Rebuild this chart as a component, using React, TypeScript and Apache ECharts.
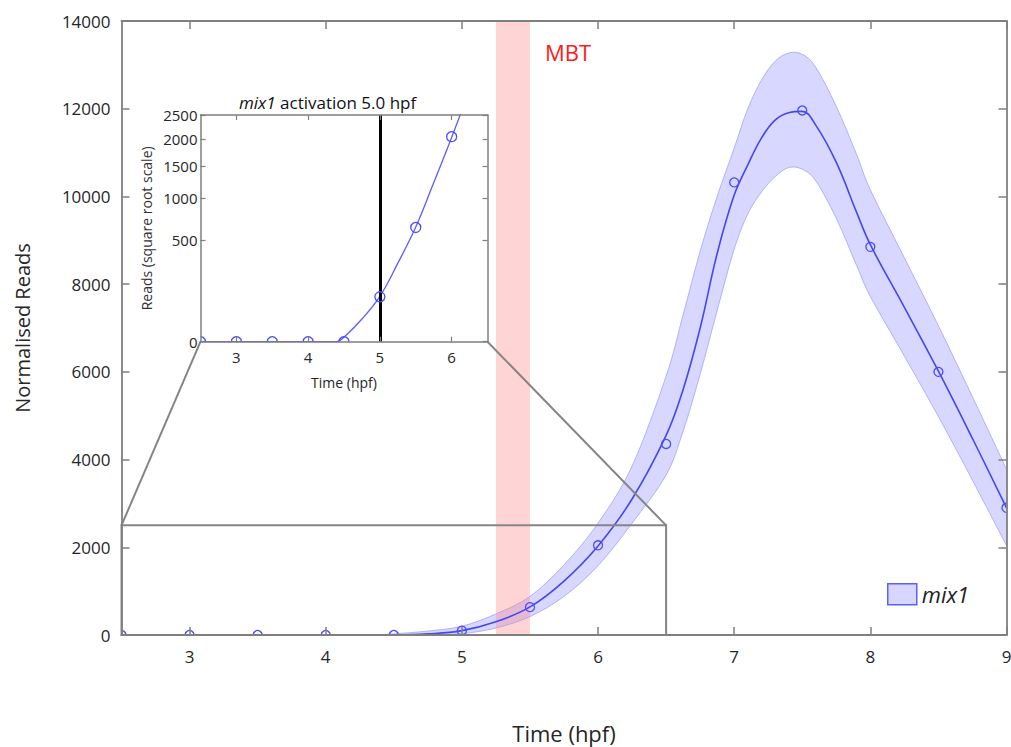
import React, { useEffect, useRef } from 'react';
import * as echarts from 'echarts';

// Measured data points (hpf, normalised reads)
const timePoints = [2.5, 3, 3.5, 4, 4.5, 5, 5.5, 6, 6.5, 7, 7.5, 8, 8.5, 9];
const readPoints = [0, 0, 0, 0, 0, 98, 635, 2045, 4356, 10320, 11960, 8850, 6000, 2900];

// Fitted curve and confidence band
const curveX = [2.5, 2.75, 3, 3.25, 3.5, 3.75, 4, 4.25, 4.4, 4.5, 4.75, 5, 5.25, 5.5, 5.75, 6, 6.25, 6.5, 6.625, 6.75, 6.875, 7, 7.1, 7.2, 7.3, 7.4, 7.5, 7.6, 7.75, 7.9, 8, 8.25, 8.5, 8.75, 9];
const fitY = [0, 0, 0, 0, 0, 0, 0, 0, 0, 1, 25, 100, 300, 640, 1230, 2030, 3100, 4550, 5600, 7000, 8700, 10030, 10720, 11330, 11740, 11910, 11940, 11620, 10775, 9630, 8900, 7470, 6015, 4480, 2900];
const upperY = [0, 0, 0, 0, 0, 0, 0, 0, 8, 25, 90, 200, 480, 880, 1600, 2550, 3850, 5900, 7300, 8750, 10000, 11100, 12000, 12650, 13080, 13270, 13240, 12940, 12050, 10950, 10150, 8600, 7050, 5430, 3780];
const lowerY = [0, 0, 0, 0, 0, 0, 0, 0, 0, 0, 0, 30, 160, 420, 880, 1580, 2550, 3650, 4650, 5950, 7400, 8800, 9600, 10100, 10450, 10660, 10620, 10350, 9500, 8420, 7720, 6360, 4980, 3530, 2040];

const mainXTicks = [3, 4, 5, 6, 7, 8, 9];
const insetXTicks = [3, 4, 5, 6];
const insetYTicks = [0, 500, 1000, 1500, 2000, 2500];
const mbtRange = [5.25, 5.5];
const zoomX = [2.5, 6.5];
const zoomY = [0, 2500];
const activationTime = 5.0;

const FONT = 'Open Sans';
const AXIS_GRAY = '#7f7f7f';
const LABEL = '#262626';
const POINT_BLUE = '#4a4aff';

// Catmull-Rom spline through pixel points -> SVG path commands
function splineCmds(pts: number[][], start: boolean): string {
  let d = (start ? 'M' : 'L') + pts[0][0] + ',' + pts[0][1];
  for (let i = 0; i < pts.length - 1; i++) {
    const p0 = pts[i - 1] || pts[i];
    const p1 = pts[i];
    const p2 = pts[i + 1];
    const p3 = pts[i + 2] || p2;
    const lo = Math.min(p1[0], p2[0]);
    const hi = Math.max(p1[0], p2[0]);
    const c1x = Math.min(hi, Math.max(lo, p1[0] + (p2[0] - p0[0]) / 6));
    const c1y = p1[1] + (p2[1] - p0[1]) / 6;
    const c2x = Math.min(hi, Math.max(lo, p2[0] - (p3[0] - p1[0]) / 6));
    const c2y = p2[1] - (p3[1] - p1[1]) / 6;
    d += ' C' + c1x + ',' + c1y + ' ' + c2x + ',' + c2y + ' ' + p2[0] + ',' + p2[1];
  }
  return d;
}

export default function App() {
  const ref = useRef<HTMLDivElement>(null);

  useEffect(() => {
    document.body.style.margin = '0';
    if (!ref.current) return;
    const chart = echarts.init(ref.current, undefined, { renderer: 'svg' });

    const sq = (v: number) => Math.sqrt(v);
    const insetYVals = insetYTicks.map(sq);

    const mainAxisLine = { show: true, onZero: false, lineStyle: { color: AXIS_GRAY, width: 1.8 } };
    const mainTick = { show: true, inside: true, length: 8, lineStyle: { color: AXIS_GRAY, width: 1.5 } };
    const insetAxisLine = { show: true, onZero: false, lineStyle: { color: AXIS_GRAY, width: 1.5 } };
    const insetTick = { show: true, inside: true, length: 5, lineStyle: { color: AXIS_GRAY, width: 1.2 } };

    const clipOf = (cs: any) => ({ type: 'rect', shape: { x: cs.x, y: cs.y, width: cs.width, height: cs.height } });

    // open circles clipped to the plotting area (like the reference)
    const circleItem = (r: number) => (params: any, api: any) => {
      const c = api.coord([api.value(0), api.value(1)]);
      return {
        type: 'circle',
        shape: { cx: c[0], cy: c[1], r },
        style: { fill: 'none', stroke: POINT_BLUE, lineWidth: 1.3 },
        clipPath: clipOf(params.coordSys),
      };
    };

    // confidence band drawn as one smooth polygon from the band data
    const bandItem = (params: any, api: any) => {
      if (params.dataIndex !== 0) return null;
      const n = params.dataInsideLength;
      const up: number[][] = [];
      const lo: number[][] = [];
      for (let i = 0; i < n; i++) {
        const x = api.value(0, i);
        lo.push(api.coord([x, api.value(1, i)]));
        up.push(api.coord([x, api.value(2, i)]));
      }
      const d = splineCmds(up, true) + ' ' + splineCmds(lo.slice().reverse(), false) + ' Z';
      return {
        type: 'path',
        shape: { pathData: d },
        style: { fill: 'rgba(112,112,255,0.28)', stroke: '#a9a9ff', lineWidth: 0.9 },
        clipPath: clipOf(params.coordSys),
      };
    };

    const option: any = {
      animation: false,
      backgroundColor: '#fff',
      textStyle: { fontFamily: FONT },
      title: {
        text: '{i|mix1} activation 5.0 hpf',
        left: 234,
        top: 89,
        textStyle: {
          fontSize: 17,
          fontWeight: 'normal',
          color: '#111',
          fontFamily: FONT,
          rich: { i: { fontStyle: 'italic', fontSize: 17, color: '#111', fontFamily: FONT } },
        },
      },
      legend: {
        left: 882,
        top: 578,
        itemWidth: 29,
        itemHeight: 21,
        selectedMode: false,
        data: [{ name: 'mix1', icon: 'rect', itemStyle: { color: '#d6d6ff', borderColor: '#5f5fff', borderWidth: 1.5 } }],
        textStyle: { fontStyle: 'italic', fontSize: 22, color: '#222', fontFamily: FONT },
      },
      grid: [
        { left: 121.5, top: 21, right: 4.5, bottom: 112, outerBoundsMode: 'none', containLabel: false },
        { left: 200.5, top: 115, right: 523.5, bottom: 405.3, outerBoundsMode: 'none', containLabel: false, show: true, backgroundColor: '#fff', borderWidth: 0 },
      ],
      xAxis: [
        {
          type: 'value', gridIndex: 0, min: 2.5, max: 9, z: 10,
          axisLine: mainAxisLine,
          axisTick: { ...mainTick, customValues: mainXTicks },
          axisLabel: { customValues: mainXTicks, margin: 13, fontSize: 17, color: LABEL, fontFamily: FONT, formatter: (v: number) => String(v) },
          splitLine: { show: false },
          name: 'Time (hpf)', nameLocation: 'middle', nameGap: 87,
          nameTextStyle: { fontSize: 22, color: LABEL, fontFamily: FONT },
        },
        {
          type: 'value', gridIndex: 0, position: 'top', min: 2.5, max: 9, z: 10,
          axisLine: mainAxisLine,
          axisTick: { ...mainTick, customValues: mainXTicks },
          axisLabel: { show: false },
          splitLine: { show: false },
        },
        {
          type: 'value', gridIndex: 1, min: 2.5, max: 6.5, z: 10,
          axisLine: insetAxisLine,
          axisTick: { ...insetTick, customValues: insetXTicks },
          axisLabel: { customValues: insetXTicks, margin: 8, fontSize: 15, color: LABEL, fontFamily: FONT, formatter: (v: number) => String(v) },
          splitLine: { show: false },
          name: 'Time (hpf)', nameLocation: 'middle', nameGap: 34,
          nameTextStyle: { fontSize: 14, color: LABEL, fontFamily: FONT },
        },
        {
          type: 'value', gridIndex: 1, position: 'top', min: 2.5, max: 6.5, z: 10,
          axisLine: insetAxisLine,
          axisTick: { ...insetTick, customValues: insetXTicks },
          axisLabel: { show: false },
          splitLine: { show: false },
        },
      ],
      yAxis: [
        {
          type: 'value', gridIndex: 0, min: 0, max: 14000, interval: 2000, z: 10,
          axisLine: mainAxisLine,
          axisTick: mainTick,
          axisLabel: { margin: 11, fontSize: 17, color: LABEL, fontFamily: FONT, formatter: (v: number) => String(v) },
          splitLine: { show: false },
          name: 'Normalised Reads', nameLocation: 'middle', nameGap: 89,
          nameTextStyle: { fontSize: 20, color: LABEL, fontFamily: FONT },
        },
        {
          type: 'value', gridIndex: 0, position: 'right', min: 0, max: 14000, interval: 2000, z: 10,
          axisLine: mainAxisLine,
          axisTick: mainTick,
          axisLabel: { show: false },
          splitLine: { show: false },
        },
        {
          type: 'value', gridIndex: 1, min: 0, max: sq(2500), z: 10,
          axisLine: insetAxisLine,
          axisTick: { ...insetTick, customValues: insetYVals },
          axisLabel: {
            customValues: insetYVals, margin: 3, fontSize: 15, color: LABEL, fontFamily: FONT,
            formatter: (v: number) => String(Math.round(v * v)),
          },
          splitLine: { show: false },
          name: 'Reads (square root scale)', nameLocation: 'middle', nameGap: 47,
          nameTextStyle: { fontSize: 14, color: '#333', fontFamily: FONT },
        },
        {
          type: 'value', gridIndex: 1, position: 'right', min: 0, max: sq(2500), z: 10,
          axisLine: insetAxisLine,
          axisTick: { ...insetTick, customValues: insetYVals },
          axisLabel: { show: false },
          splitLine: { show: false },
        },
      ],
      series: [
        {
          name: 'band', type: 'custom', xAxisIndex: 0, yAxisIndex: 0, z: 2, silent: true,
          renderItem: bandItem,
          encode: { x: 0, y: [1, 2] },
          data: curveX.map((x, i) => [x, lowerY[i], upperY[i]]),
        },
        {
          name: 'mbt', type: 'line', xAxisIndex: 0, yAxisIndex: 0, data: [], z: 3,
          markArea: {
            silent: true, z: 3,
            itemStyle: { color: 'rgba(255,128,128,0.34)' },
            label: { show: true, position: [49, 20], color: '#ff1a1a', fontSize: 22, fontFamily: FONT },
            data: [[{ name: 'MBT', xAxis: mbtRange[0] }, { xAxis: mbtRange[1] }]],
          },
        },
        {
          name: 'fit', type: 'line', xAxisIndex: 0, yAxisIndex: 0, smooth: 0.4, symbol: 'none', z: 4,
          lineStyle: { color: '#4646f0', width: 1.6 },
          data: curveX.map((x, i) => [x, fitY[i]]),
        },
        {
          name: 'points', type: 'custom', xAxisIndex: 0, yAxisIndex: 0, z: 5,
          renderItem: circleItem(4.5),
          data: timePoints.map((t, i) => [t, readPoints[i]]),
        },
        {
          name: 'zoombox', type: 'line', xAxisIndex: 0, yAxisIndex: 0, data: [], z: 6,
          markArea: {
            silent: true, z: 6,
            itemStyle: { color: 'rgba(0,0,0,0)', borderColor: '#858585', borderWidth: 2 },
            data: [[{ coord: [zoomX[0], zoomY[0]] }, { coord: [zoomX[1], zoomY[1]] }]],
          },
        },
        {
          name: 'mix1', type: 'bar', xAxisIndex: 0, yAxisIndex: 0, data: [],
          itemStyle: { color: '#d6d6ff', borderColor: '#5f5fff', borderWidth: 1.5 },
        },
        {
          name: 'insetFit', type: 'line', xAxisIndex: 2, yAxisIndex: 2, smooth: 0.4, symbol: 'none', z: 4,
          lineStyle: { color: '#5c5cff', width: 1.3 },
          data: curveX.map((x, i) => [x, sq(fitY[i])]),
          markLine: {
            silent: true, symbol: 'none', label: { show: false },
            lineStyle: { color: '#000', width: 3, type: 'solid' },
            data: [{ xAxis: activationTime }],
          },
        },
        {
          name: 'insetPoints', type: 'custom', xAxisIndex: 2, yAxisIndex: 2, z: 5,
          renderItem: circleItem(5),
          data: timePoints.filter((t) => t <= zoomX[1]).map((t, i) => [t, sq(readPoints[i])]),
        },
      ],
    };

    chart.setOption(option);

    const p1 = chart.convertToPixel({ xAxisIndex: 0, yAxisIndex: 0 }, [zoomX[0], zoomY[1]]) as number[];
    const p2 = chart.convertToPixel({ xAxisIndex: 0, yAxisIndex: 0 }, [zoomX[1], zoomY[1]]) as number[];
    const q1 = chart.convertToPixel({ xAxisIndex: 2, yAxisIndex: 2 }, [zoomX[0], 0]) as number[];
    const q2 = chart.convertToPixel({ xAxisIndex: 2, yAxisIndex: 2 }, [zoomX[1], 0]) as number[];

    chart.setOption({
      graphic: [
        { type: 'line', z: 10, silent: true, shape: { x1: p1[0], y1: p1[1], x2: q1[0], y2: q1[1] }, style: { stroke: '#858585', lineWidth: 2 } },
        { type: 'line', z: 10, silent: true, shape: { x1: p2[0], y1: p2[1], x2: q2[0], y2: q2[1] }, style: { stroke: '#858585', lineWidth: 2 } },
      ],
    });

    return () => chart.dispose();
  }, []);

  return <div ref={ref} style={{ position: 'absolute', left: 0, top: 0, width: 1011, height: 747 }} />;
}
